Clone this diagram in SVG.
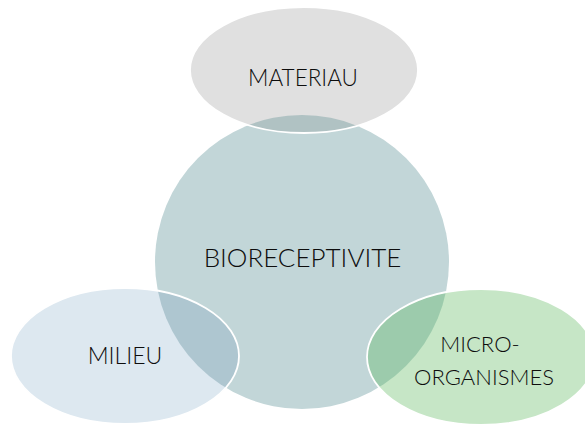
<svg xmlns="http://www.w3.org/2000/svg" width="585" height="427" viewBox="0 0 585 427">
<style>
.lbl{font-family:Lato,"Open Sans","Liberation Sans",sans-serif;font-weight:300;fill:#0d0d0d;text-anchor:middle}
.edge{fill:none;stroke:#ffffff;stroke-width:1.8}
</style>
<defs>
<clipPath id="cc"><circle cx="302" cy="262" r="147"/></clipPath>
</defs>
<rect width="585" height="427" fill="#ffffff"/>
<g id="bioreceptivite">
<circle cx="302" cy="262" r="147" fill="#c2d6d8"/>
</g>
<g id="materiau">
<ellipse cx="304" cy="70" rx="114" ry="63" fill="#e0e0e0"/>
<ellipse cx="304" cy="70" rx="114" ry="63" fill="#b0c2c3" clip-path="url(#cc)"/>
<ellipse class="edge" cx="304" cy="70" rx="114" ry="63"/>
<text class="lbl" x="303" y="86" font-size="22.5">MATERIAU</text>
</g>
<g id="milieu">
<ellipse cx="125" cy="356" rx="114" ry="68" fill="#dde8f0"/>
<ellipse cx="125" cy="356" rx="114" ry="68" fill="#aec6d0" clip-path="url(#cc)"/>
<ellipse class="edge" cx="125" cy="356" rx="114" ry="68"/>
<text class="lbl" x="125" y="364" font-size="23">MILIEU</text>
</g>
<g id="micro">
<ellipse cx="481" cy="357" rx="114" ry="68" fill="#c6e6c6"/>
<ellipse cx="481" cy="357" rx="114" ry="68" fill="#9ccbac" clip-path="url(#cc)"/>
<ellipse class="edge" cx="481" cy="357" rx="114" ry="68"/>
<text class="lbl" x="480" y="352" font-size="22">MICRO-</text>
<text class="lbl" x="484" y="385" font-size="22">ORGANISMES</text>
</g>
<g id="center-label">
<text class="lbl" x="302.5" y="267" font-size="26">BIORECEPTIVITE</text>
</g>
<g id="connectors"/>
</svg>
